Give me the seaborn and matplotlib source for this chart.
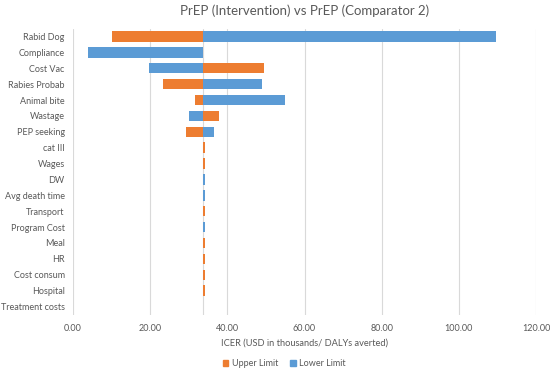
import matplotlib
matplotlib.use("Agg")
import matplotlib.pyplot as plt
import seaborn as sns
import pandas as pd
from matplotlib.patches import Patch

categories = ["Rabid Dog", "Compliance", "Cost Vac", "Rabies Probab", "Animal bite",
              "Wastage", "PEP seeking", "cat III", "Wages", "DW", "Avg death time",
              "Transport", "Program Cost", "Meal", "HR", "Cost consum", "Hospital",
              "Treatment costs"]
base_icer = 33.7
upper_limit = [10.0, 33.7, 49.6, 23.2, 31.5, 37.8, 29.3, 34.2, 34.2, 33.7, 33.7,
               34.2, 33.7, 34.2, 34.2, 34.2, 34.2, 33.7]
lower_limit = [109.6, 3.8, 19.7, 48.9, 55.0, 30.0, 36.6, 33.7, 33.7, 34.2, 34.2,
               33.7, 34.2, 33.7, 33.7, 33.7, 33.7, 33.7]
xticks = [0, 20, 40, 60, 80, 100, 120]

orange = "#ED7D31"
blue = "#5B9BD5"
grey_txt = "#595959"

sns.set_theme(style="white")
plt.rcParams['font.family'] = ['Lato', 'DejaVu Sans']

fig = plt.figure(figsize=(5.5, 3.73), dpi=100)
ax = fig.add_axes([73/550, 1-314.5/373, (536-73)/550, (314.5-28.5)/373])

df = pd.DataFrame({"cat": categories,
                   "up": [u - base_icer for u in upper_limit],
                   "lo": [l - base_icer for l in lower_limit]})

sns.barplot(data=df, x="lo", y="cat", color=blue, saturation=1, width=0.66,
            left=base_icer, ax=ax, linewidth=0)
sns.barplot(data=df, x="up", y="cat", color=orange, saturation=1, width=0.66,
            left=base_icer, ax=ax, linewidth=0)

ax.set_xlim(0, 120)
ax.set_xticks(xticks)
ax.set_xticklabels([f"{t:.2f}" for t in xticks])
for t in xticks:
    ax.axvline(t, color="#d9d9d9", lw=0.8, zorder=0)
ax.axvline(base_icer, color="#d9d9d9", lw=0.8, zorder=0)
for s in ax.spines.values():
    s.set_visible(False)
ax.tick_params(axis="both", length=0, labelsize=6.5, colors=grey_txt)
ax.tick_params(axis="y", pad=6)
ax.tick_params(axis="x", pad=7)
ax.set_ylabel("")
ax.set_xlabel("ICER (USD in thousands/ DALYs averted)", fontsize=6.7, color=grey_txt, labelpad=4)
ax.set_title("PrEP (Intervention) vs PrEP (Comparator 2)", fontsize=9.5, color=grey_txt, pad=10)

handles = [Patch(color=orange, label="Upper Limit"), Patch(color=blue, label="Lower Limit")]
leg = fig.legend(handles=handles, loc="center", bbox_to_anchor=(0.517, 1-364/373), ncol=2,
                 frameon=False, fontsize=6.5, handlelength=0.6, handleheight=0.6,
                 columnspacing=1.3, handletextpad=0.4)
for t in leg.get_texts():
    t.set_color(grey_txt)

fig.savefig("out.png", dpi=100)
